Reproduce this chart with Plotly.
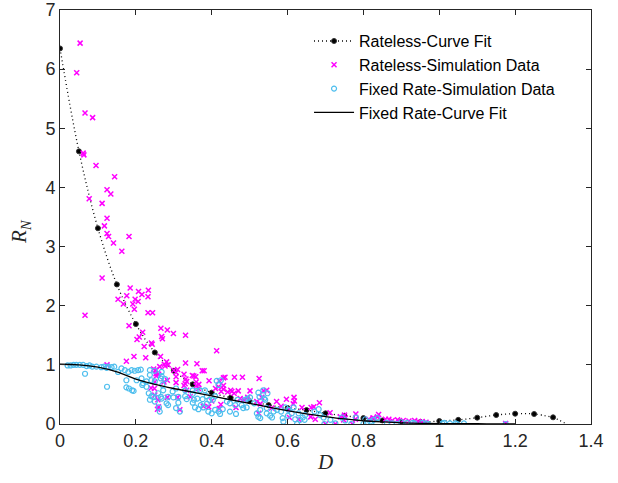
import plotly.graph_objects as go

# Rateless curve fit (markers every 0.05)
fit_r_d = [0, 0.05, 0.1, 0.15, 0.2, 0.25, 0.3, 0.35, 0.4, 0.45, 0.5, 0.55, 0.6, 0.65,
           0.7, 0.75, 0.8, 0.85, 0.9, 0.95, 1.0, 1.05, 1.1, 1.15, 1.2, 1.25, 1.3]
fit_r_v = [6.35, 4.61, 3.31, 2.36, 1.69, 1.21, 0.90, 0.67, 0.53, 0.445, 0.385, 0.32, 0.27, 0.235,
           0.18, 0.14, 0.10, 0.06, 0.04, 0.035, 0.05, 0.07, 0.107, 0.152, 0.174, 0.169, 0.113]
fit_r_tail_d = [1.3, 1.318, 1.335]
fit_r_tail_v = [0.113, 0.06, 0.0]

# Fixed rate curve fit
fit_f_d = [0, 0.05, 0.1, 0.15, 0.2, 0.25, 0.3, 0.35, 0.4, 0.45, 0.5, 0.55, 0.6, 0.65,
           0.7, 0.75, 0.8, 0.85, 0.9, 0.95, 1.0, 1.05, 1.1, 1.15, 1.2]
fit_f_v = [1.01, 1.0, 0.96, 0.88, 0.76, 0.67, 0.60, 0.54, 0.475, 0.41, 0.35, 0.285, 0.225, 0.17,
           0.125, 0.085, 0.055, 0.035, 0.02, 0.012, 0.008, 0.005, 0.004, 0.003, 0.002]

# Rateless simulation data
sim_r_d = [0.053, 0.044, 0.066, 0.086, 0.061, 0.063, 0.095, 0.144, 0.124, 0.134, 0.077, 0.111,
           0.124, 0.117, 0.124, 0.128, 0.182, 0.141, 0.163, 0.111, 0.066, 0.185, 0.207, 0.216,
           0.233, 0.232, 0.176, 0.153, 0.198, 0.206, 0.167, 0.192, 0.196, 0.232, 0.244, 0.182,
           0.266, 0.218, 0.283, 0.299, 0.331, 0.268, 0.270, 0.209, 0.203, 0.241, 0.243, 0.222,
           0.413, 0.195, 0.226, 0.265, 0.175, 0.331, 0.361, 0.281, 0.277, 0.285, 0.263, 0.124,
           0.275, 0.247, 0.252, 0.300, 0.310, 0.306, 0.375, 0.380, 0.253, 0.260, 0.327, 0.306,
           0.349, 0.358, 0.332, 0.353, 0.366, 0.359, 0.393, 0.420, 0.431, 0.435, 0.460, 0.481,
           0.525, 0.254, 0.306, 0.283, 0.250, 0.274, 0.334, 0.327, 0.330, 0.334, 0.360, 0.365,
           0.410, 0.418, 0.425, 0.431, 0.442, 0.450, 0.459, 0.470, 0.501, 0.537, 0.545, 0.240,
           0.249, 0.250, 0.258, 0.260, 0.283, 0.310, 0.343, 0.475, 0.485, 0.495, 0.400, 0.392,
           0.378, 0.424, 0.420, 0.464, 0.519, 0.532, 0.528, 0.524, 0.316, 0.558, 0.571, 0.583,
           0.597, 0.617, 0.618, 0.615, 0.605, 0.669, 0.684, 0.629, 0.605, 0.673, 0.661, 0.700,
           0.726, 0.750, 0.780, 0.779, 0.748, 0.814, 0.825, 0.771, 0.840, 0.837, 0.827, 0.858,
           0.867, 0.876, 0.890, 0.905, 0.920, 0.935, 0.945, 0.955, 0.965, 0.638, 0.662, 0.712,
           0.739, 0.752, 1.175, 0.431, 0.453, 0.257]
sim_r_v = [6.44, 5.94, 5.26, 5.18, 4.58, 4.55, 4.37, 4.18, 3.96, 3.89, 3.81, 3.73,
           3.48, 3.35, 3.22, 3.17, 3.17, 3.06, 2.92, 2.47, 1.84, 2.30, 2.24, 2.19,
           2.26, 2.15, 2.17, 2.11, 2.11, 2.07, 2.03, 2.03, 1.94, 1.88, 1.88, 1.66,
           1.62, 1.55, 1.59, 1.53, 1.50, 1.48, 1.44, 1.47, 1.43, 1.37, 1.35, 1.31,
           1.24, 1.14, 1.12, 1.14, 1.06, 1.03, 1.02, 1.05, 0.98, 1.00, 0.97, 1.00,
           1.01, 0.93, 0.91, 0.91, 0.92, 0.87, 0.90, 0.90, 0.85, 0.84, 0.84, 0.80,
           0.82, 0.80, 0.76, 0.81, 0.67, 0.71, 0.73, 0.73, 0.78, 0.79, 0.79, 0.79,
           0.77, 0.81, 0.70, 0.74, 0.71, 0.71, 0.72, 0.65, 0.68, 0.57, 0.65, 0.60,
           0.60, 0.63, 0.55, 0.59, 0.54, 0.57, 0.52, 0.56, 0.56, 0.56, 0.57, 0.61,
           0.60, 0.49, 0.41, 0.29, 0.45, 0.45, 0.46, 0.43, 0.41, 0.45, 0.39, 0.29,
           0.30, 0.33, 0.26, 0.28, 0.38, 0.45, 0.34, 0.18, 0.24, 0.27, 0.38, 0.30,
           0.42, 0.45, 0.39, 0.34, 0.25, 0.29, 0.36, 0.08, 0.11, 0.08, 0.12, 0.00,
           0.00, 0.15, 0.17, 0.08, 0.07, 0.08, 0.10, 0.00, 0.16, 0.12, 0.10, 0.08,
           0.08, 0.06, 0.07, 0.06, 0.05, 0.06, 0.04, 0.04, 0.03, 0.28, 0.28, 0.19,
           0.12, 0.10, 0.01, 0.65, 0.55, 0.25]

# Fixed rate simulation data
sim_f_d = [0.020, 0.028, 0.036, 0.043, 0.052, 0.061, 0.070, 0.078, 0.085, 0.096, 0.066, 0.109,
           0.116, 0.123, 0.127, 0.136, 0.143, 0.124, 0.162, 0.171, 0.153, 0.180, 0.189, 0.197,
           0.206, 0.213, 0.175, 0.182, 0.190, 0.194, 0.175, 0.202, 0.215, 0.228, 0.217, 0.237,
           0.250, 0.237, 0.241, 0.250, 0.234, 0.241, 0.237, 0.250, 0.259, 0.266, 0.261, 0.263,
           0.268, 0.266, 0.270, 0.268, 0.277, 0.272, 0.268, 0.285, 0.281, 0.285, 0.312, 0.316,
           0.306, 0.297, 0.306, 0.312, 0.299, 0.330, 0.330, 0.334, 0.350, 0.350, 0.360, 0.369,
           0.382, 0.353, 0.350, 0.362, 0.376, 0.356, 0.365, 0.371, 0.378, 0.387, 0.394, 0.387,
           0.403, 0.409, 0.413, 0.418, 0.424, 0.391, 0.400, 0.409, 0.418, 0.422, 0.429, 0.440,
           0.448, 0.462, 0.468, 0.479, 0.483, 0.492, 0.488, 0.464, 0.448, 0.494, 0.501, 0.512,
           0.523, 0.536, 0.547, 0.538, 0.526, 0.519, 0.523, 0.528, 0.528, 0.545, 0.541, 0.545,
           0.554, 0.563, 0.559, 0.572, 0.583, 0.587, 0.589, 0.594, 0.602, 0.601, 0.611, 0.616,
           0.620, 0.625, 0.629, 0.633, 0.640, 0.645, 0.646, 0.671, 0.682, 0.686, 0.695, 0.697,
           0.713, 0.726, 0.743, 0.752, 0.768, 0.780, 0.800, 0.805, 0.821, 0.827, 0.810, 0.818,
           0.837, 0.862, 0.875, 0.888, 0.900, 0.915, 0.930, 0.935, 0.955, 0.965, 0.970, 1.008,
           1.013, 1.028, 1.043, 1.047, 1.065, 1.175, 0.219, 0.228, 0.246]
sim_f_v = [0.99, 0.99, 1.00, 1.00, 1.00, 1.00, 0.98, 0.99, 0.97, 0.97, 0.85, 0.96,
           0.97, 0.95, 0.97, 0.96, 0.97, 0.63, 0.94, 0.91, 0.88, 0.88, 0.91, 0.90,
           0.91, 0.92, 0.62, 0.60, 0.57, 0.56, 0.74, 0.74, 0.77, 0.72, 0.66, 0.91,
           0.90, 0.83, 0.74, 0.72, 0.52, 0.47, 0.41, 0.38, 0.52, 0.46, 0.28, 0.21,
           0.88, 0.77, 0.66, 0.81, 0.76, 0.57, 0.43, 0.46, 0.35, 0.32, 0.36, 0.21,
           0.27, 0.55, 0.60, 0.46, 0.45, 0.57, 0.47, 0.42, 0.57, 0.51, 0.56, 0.57,
           0.57, 0.41, 0.36, 0.43, 0.42, 0.28, 0.25, 0.32, 0.28, 0.47, 0.41, 0.34,
           0.41, 0.47, 0.73, 0.66, 0.74, 0.21, 0.18, 0.24, 0.21, 0.17, 0.25, 0.38,
           0.35, 0.32, 0.41, 0.32, 0.27, 0.28, 0.41, 0.17, 0.21, 0.43, 0.45, 0.35,
           0.53, 0.57, 0.52, 0.43, 0.46, 0.18, 0.12, 0.10, 0.24, 0.27, 0.41, 0.18,
           0.14, 0.21, 0.11, 0.24, 0.21, 0.10, 0.04, 0.28, 0.24, 0.14, 0.18, 0.28,
           0.08, 0.00, 0.18, 0.07, 0.11, 0.07, 0.15, 0.21, 0.25, 0.15, 0.11, 0.00,
           0.07, 0.01, 0.11, 0.06, 0.00, 0.11, 0.00, 0.08, 0.00, 0.07, 0.01, 0.04,
           0.10, 0.02, 0.01, 0.00, 0.03, 0.02, 0.02, 0.01, 0.02, 0.01, 0.00, 0.01,
           0.02, 0.01, 0.01, 0.00, 0.01, 0.00, 0.69, 0.63, 0.46]

x_ticks = [0, 0.2, 0.4, 0.6, 0.8, 1, 1.2, 1.4]
x_tick_text = ["0", "0.2", "0.4", "0.6", "0.8", "1", "1.2", "1.4"]
y_ticks = [0, 1, 2, 3, 4, 5, 6, 7]

MAG = "#FF00FF"
CYAN = "#4DBEEE"
AX = "#262626"
FONT = "Liberation Sans, Arial, sans-serif"
SERIF = "Liberation Serif, Times New Roman, serif"

fig = go.Figure()

fig.add_trace(go.Scatter(
    x=fit_r_d, y=fit_r_v, mode="lines+markers", name="Rateless-Curve Fit",
    line=dict(color="black", width=1.3, dash="1px,3px", shape="spline"),
    marker=dict(symbol="circle", size=5, color="black", line=dict(color="#333", width=1)),
))
fig.add_trace(go.Scatter(
    x=fit_r_tail_d, y=fit_r_tail_v, mode="lines", showlegend=False,
    line=dict(color="black", width=1.3, dash="1px,3px", shape="spline"),
))
fig.add_trace(go.Scatter(
    x=sim_r_d, y=sim_r_v, mode="markers", name="Rateless-Simulation Data",
    marker=dict(symbol="x-thin", size=5, color=MAG, line=dict(color=MAG, width=1.5)),
))
fig.add_trace(go.Scatter(
    x=sim_f_d, y=sim_f_v, mode="markers", name="Fixed Rate-Simulation Data",
    marker=dict(symbol="circle-open", size=5, color=CYAN, line=dict(color=CYAN, width=1.2)),
))
fig.add_trace(go.Scatter(
    x=fit_f_d, y=fit_f_v, mode="lines", name="Fixed Rate-Curve Fit",
    line=dict(color="black", width=1.3, shape="spline"),
))

fig.update_layout(
    width=618, height=483,
    margin=dict(l=60, r=27, t=10, b=59),
    paper_bgcolor="white", plot_bgcolor="white",
    font=dict(family=FONT, size=18, color=AX),
    showlegend=True,
    legend=dict(
        x=0.469, y=0.966, xanchor="left", yanchor="top",
        bgcolor="rgba(255,255,255,0)", borderwidth=0,
        font=dict(family=FONT, size=16, color="black"),
        tracegroupgap=0, itemwidth=40,
    ),
    xaxis=dict(
        range=[0, 1.4], tickvals=x_ticks, ticktext=x_tick_text, automargin=False,
        ticks="inside", ticklen=5, tickcolor=AX, showline=True, linecolor=AX, linewidth=1,
        mirror="ticks", showgrid=False, zeroline=False,
        tickfont=dict(family=FONT, size=18, color=AX),
        title=dict(text="<i>D</i>", font=dict(family=SERIF, size=21, color=AX), standoff=4),
    ),
    yaxis=dict(
        range=[0, 7], tickvals=y_ticks, automargin=False,
        ticks="inside", ticklen=5, tickcolor=AX, showline=True, linecolor=AX, linewidth=1,
        mirror="ticks", showgrid=False, zeroline=False,
        tickfont=dict(family=FONT, size=18, color=AX),
    ),
    annotations=[dict(
        text="<i>R</i><sub><i>N</i></sub>", textangle=-90,
        xref="paper", yref="paper", x=-0.075, y=0.464,
        xanchor="center", yanchor="middle", showarrow=False,
        font=dict(family=SERIF, size=21, color=AX),
    )],
)

fig.write_html("out.html", config={"displayModeBar": False},
               post_script="document.body.style.margin='0';")
